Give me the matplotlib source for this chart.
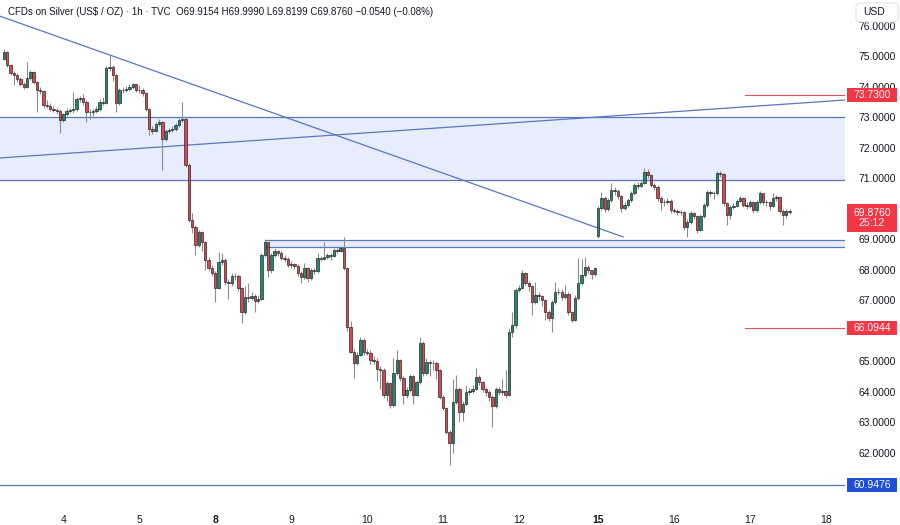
import numpy as np
import matplotlib.pyplot as plt
from matplotlib.patches import Rectangle, FancyBboxPatch
from matplotlib.transforms import blended_transform_factory

# hourly closes (Dec 3 afternoon .. Dec 17)
closes = [
    75.14, 74.70, 74.43, 74.38, 74.25, 74.10, 73.98, 74.27, 74.49, 74.16,
    73.89, 73.86, 73.39, 73.37, 73.27, 73.24, 73.20, 72.90, 73.10, 73.20,
    73.22, 73.25, 73.58, 73.62, 73.50, 73.17, 73.17, 73.20, 73.27, 73.50,
    73.47, 74.60, 74.65, 74.38, 73.47, 73.89, 73.90, 73.92, 73.99, 74.07,
    73.89, 73.88, 73.78, 73.28, 72.62, 72.56, 72.78, 72.84, 72.29, 72.56,
    72.58, 72.60, 72.73, 72.90, 72.95, 71.43, 69.62, 69.39, 68.80, 69.23,
    68.90, 68.31, 68.05, 67.89, 67.40, 68.25, 68.30, 67.60, 67.56, 67.80,
    67.78, 67.38, 66.60, 67.10, 67.08, 67.12, 66.98, 67.05, 68.48, 68.90,
    67.98, 68.48, 68.60, 68.55, 68.38, 68.35, 68.15, 68.17, 68.12, 67.89,
    67.75, 68.05, 67.72, 67.98, 67.95, 68.38, 68.36, 68.40, 68.48, 68.46,
    68.64, 68.62, 68.70, 68.05, 66.11, 65.30, 64.93, 65.20, 65.70, 65.30,
    65.28, 65.03, 65.00, 64.74, 64.72, 63.90, 64.27, 63.56, 64.60, 65.03,
    64.44, 63.89, 64.05, 64.50, 63.90, 64.30, 65.60, 64.60, 64.97, 64.95,
    64.93, 64.70, 63.82, 63.46, 62.67, 62.30, 63.66, 64.10, 63.33, 63.60,
    63.98, 64.03, 64.10, 64.48, 64.30, 64.10, 63.98, 63.82, 63.52, 64.10,
    63.98, 64.02, 63.89, 65.95, 66.18, 67.33, 67.40, 67.89, 67.56, 67.45,
    66.93, 67.15, 67.12, 67.00, 66.60, 66.40, 66.93, 67.26, 67.28, 67.10,
    67.20, 66.60, 66.34, 67.07, 67.56, 67.82, 68.08, 67.97, 67.85, 68.05,
    70.02, 70.34, 70.00, 70.27, 70.60, 70.58, 70.40, 70.02, 70.12, 70.27,
    70.50, 70.77, 70.75, 70.85, 71.20, 71.10, 70.77, 70.72, 70.34, 70.20,
    70.22, 70.26, 69.95, 69.93, 69.88, 69.88, 69.40, 69.57, 69.85, 69.75,
    69.30, 69.75, 70.11, 70.54, 70.52, 70.50, 71.16, 71.15, 70.18, 69.79,
    70.05, 70.10, 70.25, 70.34, 70.12, 70.10, 70.20, 69.95, 70.20, 70.50,
    70.20, 70.20, 70.10, 70.34, 70.38, 69.92, 69.79, 69.9154, 69.876,
]
highs = [
    75.22, 75.18, 74.75, 74.50, 74.45, 74.30, 74.15, 74.80, 74.55, 74.52,
    74.20, 74.00, 73.90, 73.55, 73.45, 73.35, 73.30, 73.25, 73.15, 73.30,
    73.30, 73.82, 73.65, 73.70, 73.75, 73.55, 73.25, 73.28, 73.35, 73.58,
    73.65, 74.68, 75.03, 74.70, 74.42, 73.95, 74.00, 74.02, 74.08, 74.12,
    74.10, 74.05, 73.95, 73.82, 73.30, 72.70, 72.85, 72.95, 72.88, 72.62,
    72.65, 72.70, 72.80, 72.98, 73.50, 72.98, 71.50, 69.85, 69.45, 69.30,
    69.28, 68.95, 68.40, 68.15, 67.95, 68.57, 68.55, 68.38, 67.70, 67.90,
    67.88, 67.85, 67.42, 67.45, 67.55, 67.25, 67.20, 67.15, 68.55, 68.97,
    68.92, 68.55, 68.70, 68.65, 68.60, 68.48, 68.40, 68.28, 68.22, 68.18,
    67.95, 68.20, 68.10, 68.05, 68.05, 68.55, 68.45, 68.90, 68.55, 68.55,
    68.72, 68.72, 68.78, 69.07, 68.10, 66.30, 65.40, 65.30, 65.80, 65.75,
    65.40, 65.35, 65.15, 65.10, 64.85, 64.78, 64.35, 64.30, 65.10, 65.36,
    65.08, 64.50, 64.15, 64.58, 64.55, 64.38, 65.80, 65.65, 65.10, 65.05,
    65.05, 65.00, 64.75, 63.88, 63.50, 62.75, 64.40, 64.54, 64.15, 63.70,
    64.20, 64.12, 64.20, 64.77, 64.55, 64.35, 64.15, 64.05, 63.90, 64.15,
    64.15, 64.40, 64.70, 66.10, 66.60, 67.40, 67.48, 67.98, 67.92, 67.62,
    67.50, 67.60, 67.25, 67.18, 67.05, 66.68, 67.00, 67.60, 67.40, 67.35,
    67.50, 67.25, 66.65, 67.15, 68.38, 68.35, 68.41, 68.15, 68.00, 68.10,
    70.08, 70.54, 70.40, 70.35, 70.84, 70.70, 70.65, 70.45, 70.20, 70.35,
    70.58, 70.85, 70.88, 70.95, 71.33, 71.30, 71.15, 70.85, 70.78, 70.40,
    70.30, 70.35, 70.30, 70.02, 69.98, 69.95, 69.92, 69.65, 69.92, 69.90,
    69.80, 69.82, 70.18, 70.62, 70.60, 70.58, 71.22, 71.22, 71.18, 70.22,
    70.12, 70.18, 70.32, 70.42, 70.38, 70.20, 70.28, 70.25, 70.28, 70.58,
    70.52, 70.28, 70.25, 70.50, 70.45, 70.42, 69.98, 70.00, 69.999,
]
lows = [
    74.88, 74.65, 74.38, 74.05, 74.15, 74.02, 73.92, 73.95, 74.22, 74.10,
    73.17, 73.75, 73.30, 73.30, 73.20, 73.18, 73.10, 72.47, 72.85, 73.05,
    73.12, 73.15, 73.20, 73.50, 73.40, 72.84, 72.95, 73.05, 73.12, 73.20,
    73.40, 73.42, 74.50, 74.20, 73.17, 73.40, 73.80, 73.82, 73.85, 73.92,
    73.82, 73.80, 73.70, 73.20, 72.40, 72.45, 72.50, 72.72, 71.26, 72.20,
    72.48, 72.50, 72.55, 72.68, 72.85, 71.35, 69.55, 69.20, 68.48, 68.75,
    68.60, 67.98, 67.95, 67.80, 66.95, 67.35, 68.15, 67.50, 67.05, 67.45,
    67.65, 67.30, 66.25, 66.55, 66.95, 67.00, 66.60, 66.90, 67.00, 68.40,
    67.75, 67.90, 68.40, 68.45, 68.30, 68.25, 68.08, 68.05, 68.02, 67.80,
    67.55, 67.70, 67.60, 67.65, 67.85, 67.90, 68.28, 68.30, 68.35, 68.30,
    68.40, 68.55, 68.58, 68.00, 66.00, 65.25, 64.44, 64.88, 65.15, 65.20,
    65.20, 64.90, 64.92, 64.35, 64.10, 63.80, 63.70, 63.45, 63.50, 64.55,
    64.35, 63.60, 63.80, 64.00, 63.60, 63.85, 64.25, 64.50, 64.55, 64.50,
    64.70, 64.40, 63.75, 63.40, 62.60, 61.59, 62.00, 63.60, 63.00, 63.05,
    63.55, 63.90, 63.95, 64.05, 64.20, 64.00, 63.85, 63.70, 62.84, 63.45,
    63.90, 63.90, 63.80, 63.85, 65.80, 66.10, 67.25, 67.35, 67.50, 67.30,
    66.50, 66.88, 67.00, 66.80, 66.35, 66.30, 65.95, 66.88, 67.15, 67.00,
    67.05, 66.50, 66.28, 66.30, 67.00, 67.50, 67.75, 67.88, 67.70, 67.80,
    69.03, 69.95, 69.90, 69.92, 70.22, 70.45, 70.30, 69.90, 69.95, 70.05,
    70.22, 70.45, 70.65, 70.70, 70.80, 71.00, 70.70, 70.60, 70.25, 69.95,
    70.10, 70.15, 69.85, 69.85, 69.80, 69.80, 69.30, 69.07, 69.50, 69.65,
    69.20, 69.25, 69.70, 70.05, 70.40, 70.30, 70.45, 71.05, 70.10, 69.45,
    69.65, 69.98, 70.05, 70.20, 70.05, 70.00, 70.02, 69.85, 69.90, 70.15,
    70.12, 70.10, 69.95, 70.05, 70.25, 69.85, 69.45, 69.70, 69.8199,
]
first_open = 74.92
monday_bar = 180       # first bar after the weekend gap
monday_open = 69.10

day_labels = ["4", "5", "8", "9", "10", "11", "12", "15", "16", "17", "18"]
day_start = [18, 41, 64, 87, 110, 133, 156, 180, 203, 226, 249]
week_start = ["8", "15"]

zone_upper = (70.93, 73.00)
zone_lower = (68.74, 68.97)
zone_lower_from = 79
red_levels = [73.73, 66.0944]
red_from = 224.5
blue_level = 60.9476
trend_down = ([-1.2, 187.6], [76.31, 69.07])
trend_up = ([-1.2, 254.8], [71.66, 73.56])
price_ticks = np.arange(62, 77)
last_price = 69.876
countdown = "25:12"

title = ("CFDs on Silver (US$ / OZ) \u00b7 1h \u00b7 TVC  O69.9154 H69.9990 "
         "L69.8199 C69.8760 \u22120.0540 (\u22120.08%)")

assert len(closes) == len(highs) == len(lows)

opens = [first_open] + closes[:-1]
opens[monday_bar] = monday_open
opens = np.array(opens)
closes = np.array(closes)
highs = np.array(highs)
lows = np.array(lows)
idx = np.arange(len(closes))

GREEN = "#1f8a70"
RED = "#d9464f"
LINE = "#5a76bd"
TXT = "#131722"

plt.rcParams["font.family"] = ["Liberation Sans", "DejaVu Sans"]

fig = plt.figure(figsize=(9, 5.25), dpi=100)
ax = fig.add_axes([0, 20 / 525, 845 / 900, 505 / 525])
ax.set_xlim(-1.2, 254.8)
ax.set_ylim(60.28, 76.84)

# zones and drawn lines
ax.axhspan(*zone_upper, color="#e8edfb", zorder=0, lw=0)
for y in zone_upper:
    ax.axhline(y, color=LINE, lw=0.9, zorder=1)
ax.fill_between([zone_lower_from, 254.8], *zone_lower, color="#e8edfb", lw=0, zorder=0)
for y in zone_lower:
    ax.plot([zone_lower_from, 254.8], [y, y], color=LINE, lw=0.9, zorder=1)
ax.axhline(blue_level, color=LINE, lw=0.9, zorder=1)
for y in red_levels:
    ax.plot([red_from, 254.8], [y, y], color="#e0535b", lw=0.8, zorder=1)
ax.plot(*trend_down, color=LINE, lw=0.9, zorder=1)
ax.plot(*trend_up, color=LINE, lw=0.9, zorder=1)

# candles
up = closes >= opens
ax.vlines(idx, lows, highs, color="#8c8c8c", lw=0.8, zorder=2)
body_lo = np.minimum(opens, closes)
body_h = np.abs(closes - opens)
ax.bar(idx, body_h, bottom=body_lo, width=0.72,
       color=np.where(up, GREEN, RED), edgecolor="#1a1a1a", linewidth=0.45, zorder=3)

# axes look
for s in ax.spines.values():
    s.set_visible(False)
ax.yaxis.tick_right()
ax.set_yticks(price_ticks)
ax.set_yticklabels([f"{v:.4f}" for v in price_ticks])
ax.tick_params(axis="y", length=0, pad=10, labelsize=7.5, labelcolor=TXT)
ax.set_xticks(day_start)
ax.set_xticklabels(day_labels)
ax.tick_params(axis="x", length=0, pad=7, labelsize=7.5, labelcolor=TXT)
for lab in ax.get_xticklabels():
    if lab.get_text() in week_start:
        lab.set_fontweight("bold")

# price tags on the scale
tr = blended_transform_factory(ax.transAxes, ax.transData)
ppx = 505 / (76.84 - 60.28)  # pixels per dollar


def price_tag(y, text, color, height_px=14):
    h = height_px / ppx
    ax.add_patch(Rectangle((1.0024, y - h / 2), 50 / 845, h, transform=tr,
                           facecolor=color, edgecolor="none", clip_on=False, zorder=8))
    ax.text(1.0024 + 25 / 845, y, text, transform=tr, ha="center", va="center",
            color="white", fontsize=7.5, clip_on=False, zorder=9, linespacing=1.05)


price_tag(red_levels[0], f"{red_levels[0]:.4f}", "#f23645")
price_tag(red_levels[1], f"{red_levels[1]:.4f}", "#f23645")
price_tag(blue_level, f"{blue_level:.4f}", "#1e4fd6")
price_tag(last_price - 0.19, f"{last_price:.4f}\n{countdown}", "#f23645", height_px=28)

# USD box and legend line
fig.patches.append(FancyBboxPatch((856 / 900, 1 - 22 / 525), 42 / 900, 19 / 525,
                                  boxstyle="round,pad=0,rounding_size=0.006",
                                  transform=fig.transFigure, facecolor="white",
                                  edgecolor="#e0e3eb", lw=0.8, zorder=10))
fig.text(863 / 900, 1 - 12 / 525, "USD", fontsize=7.5, color=TXT, va="center", zorder=11)
fig.text(8 / 900, 1 - 12 / 525, title, fontsize=7.0, color=TXT, va="center")

fig.savefig("out.png", dpi=100, facecolor="white")
